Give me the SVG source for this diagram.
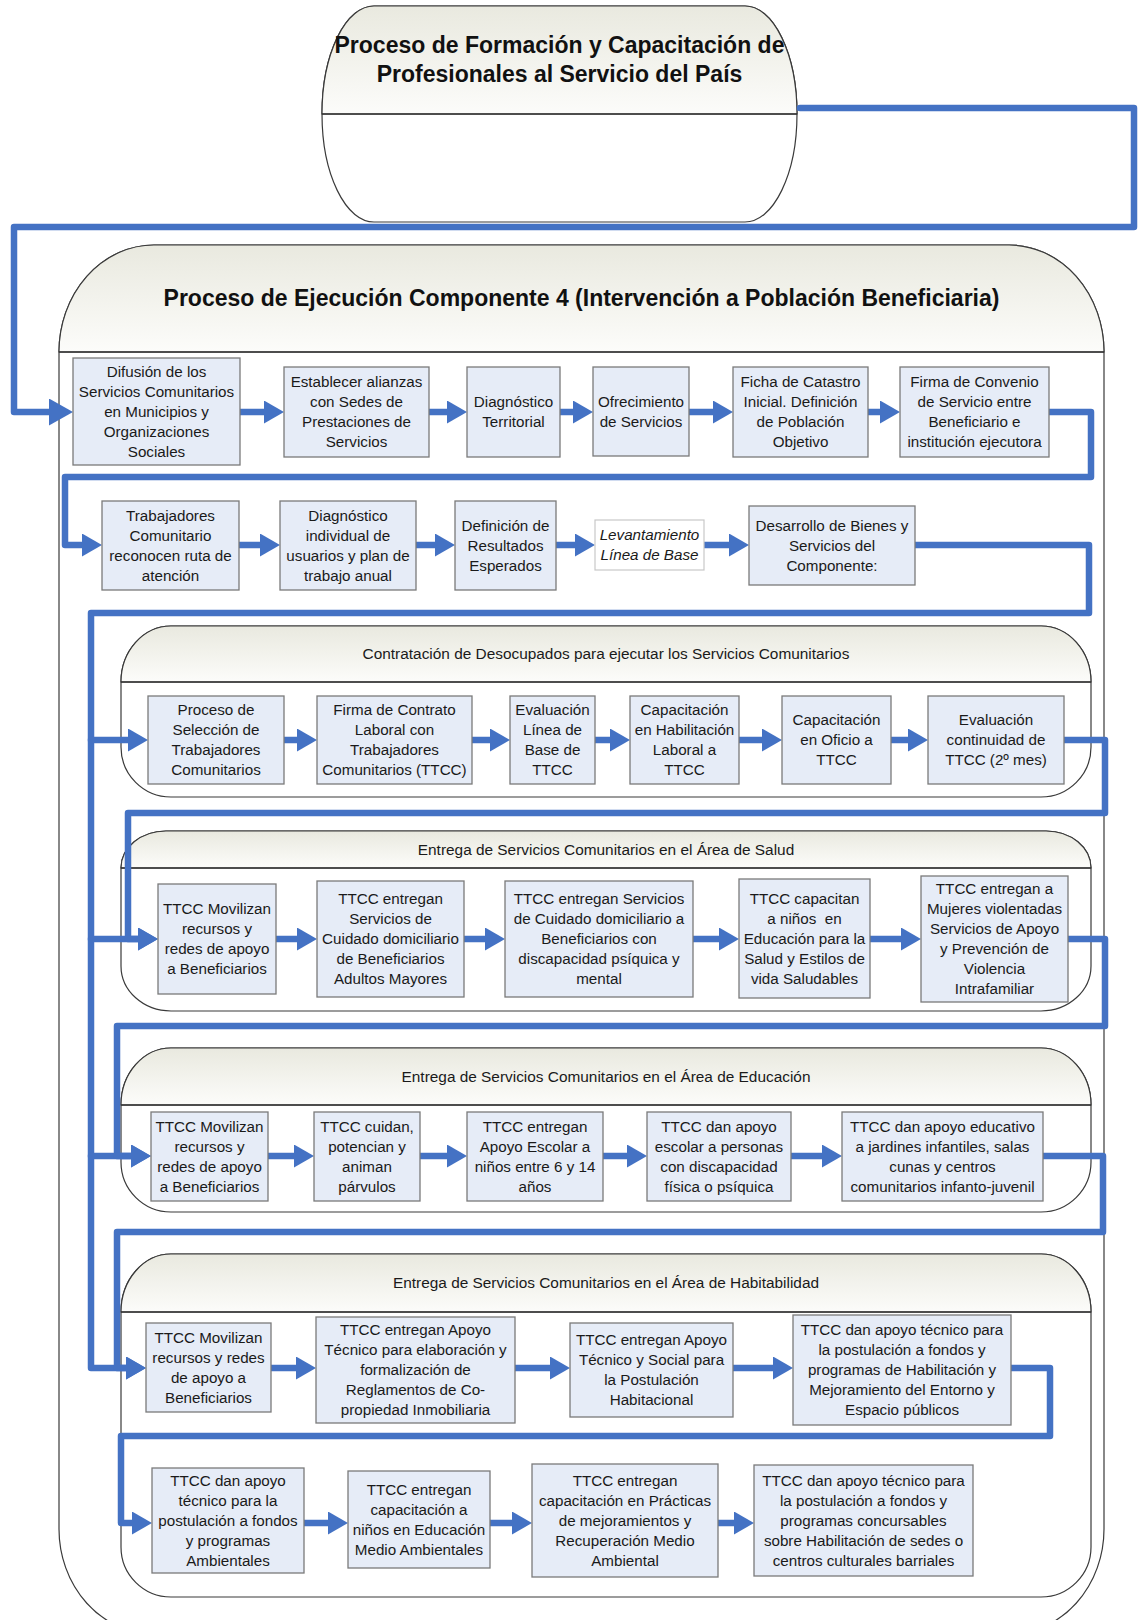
<svg xmlns="http://www.w3.org/2000/svg" width="1138" height="1620" viewBox="0 0 1138 1620">
<defs>
<linearGradient id="hdr" x1="0" y1="0" x2="0" y2="1"><stop offset="0" stop-color="#e9e9df"/><stop offset="1" stop-color="#fcfcfa"/></linearGradient>
<marker id="ah" markerUnits="userSpaceOnUse" markerWidth="20" markerHeight="23" viewBox="0 0 20 23" refX="0" refY="11.5" orient="auto"><path d="M0,0 L20,11.5 L0,23 Z" fill="#4472c4"/></marker>
<marker id="ahL" markerUnits="userSpaceOnUse" markerWidth="24" markerHeight="27" viewBox="0 0 24 27" refX="0" refY="13.5" orient="auto"><path d="M0,0 L24,13.5 L0,27 Z" fill="#4472c4"/></marker>
<style>
.cont{fill:#ffffff;stroke:#3a3a3a;stroke-width:1.2}
.hd{fill:url(#hdr);stroke:#3a3a3a;stroke-width:1.2}
.dv{stroke:#333;stroke-width:1.5}
.box{fill:#e6ecf7;stroke:#7a7a7a;stroke-width:1.3}
.box2{fill:#ffffff;stroke:#c8c8c8;stroke-width:1.2}
.bt{font-family:"Liberation Sans",Arial,sans-serif;font-size:15.2px;fill:#1a1a1a;text-anchor:middle}
.it{font-style:italic}
.tt{font-family:"Liberation Sans",Arial,sans-serif;font-size:23px;font-weight:bold;fill:#111;text-anchor:middle}
.st{font-family:"Liberation Sans",Arial,sans-serif;font-size:15.4px;fill:#1a1a1a;text-anchor:middle}
.c{fill:none;stroke:#4472c4;stroke-width:6.5;stroke-linejoin:round;stroke-linecap:round;marker-end:url(#ah)}
.cl{marker-end:url(#ahL)}
</style>
</defs>
<rect width="1138" height="1620" fill="#ffffff"/>

<g id="formacion">
<path class="cont" d="M374,6 H745 A52,108 0 0 1 745,222 H374 A52,108 0 0 1 374,6 Z"/>
<path class="hd" d="M322,114 A52,108 0 0 1 374,6 H745 A52,108 0 0 1 797,114 Z"/>
<line class="dv" x1="322" y1="114" x2="797" y2="114"/>
<text class="tt"><tspan x="559.5" y="53">Proceso de Formación y Capacitación de</tspan><tspan x="559.5" y="82">Profesionales al Servicio del País</tspan></text>
</g>

<g id="ejecucion">
<path class="cont" d="M154,245 H1009 A95,107 0 0 1 1104,352 V1529 A95,105 0 0 1 1009,1634 H154 A95,105 0 0 1 59,1529 V352 A95,107 0 0 1 154,245 Z"/>
<path class="hd" d="M59,352 A95,107 0 0 1 154,245 H1009 A95,107 0 0 1 1104,352 Z"/>
<line class="dv" x1="59" y1="352" x2="1104" y2="352"/>
<text class="tt" x="581.5" y="306">Proceso de Ejecución Componente 4 (Intervención a Población Beneficiaria)</text>
</g>

<g id="sec-contratacion">
<path class="cont" d="M171,626 H1041 A50,56 0 0 1 1091,682 V747 A50,50 0 0 1 1041,797 H171 A50,50 0 0 1 121,747 V682 A50,56 0 0 1 171,626 Z"/>
<path class="hd" d="M121,682 A50,56 0 0 1 171,626 H1041 A50,56 0 0 1 1091,682 Z"/>
<line class="dv" x1="121" y1="682" x2="1091" y2="682"/>
<text class="st" x="606" y="659">Contratación de Desocupados para ejecutar los Servicios Comunitarios</text>
</g>
<g id="sec-salud">
<path class="cont" d="M166,831 H1046 A45,37 0 0 1 1091,868 V966 A50,45 0 0 1 1041,1011 H171 A50,45 0 0 1 121,966 V868 A45,37 0 0 1 166,831 Z"/>
<path class="hd" d="M121,868 A45,37 0 0 1 166,831 H1046 A45,37 0 0 1 1091,868 Z"/>
<line class="dv" x1="121" y1="868" x2="1091" y2="868"/>
<text class="st" x="606" y="855">Entrega de Servicios Comunitarios en el Área de Salud</text>
</g>
<g id="sec-educacion">
<path class="cont" d="M171,1048 H1041 A50,57 0 0 1 1091,1105 V1162 A50,50 0 0 1 1041,1212 H171 A50,50 0 0 1 121,1162 V1105 A50,57 0 0 1 171,1048 Z"/>
<path class="hd" d="M121,1105 A50,57 0 0 1 171,1048 H1041 A50,57 0 0 1 1091,1105 Z"/>
<line class="dv" x1="121" y1="1105" x2="1091" y2="1105"/>
<text class="st" x="606" y="1082">Entrega de Servicios Comunitarios en el Área de Educación</text>
</g>
<g id="sec-habitabilidad">
<path class="cont" d="M171,1254 H1041 A50,58 0 0 1 1091,1312 V1547 A50,50 0 0 1 1041,1597 H171 A50,50 0 0 1 121,1547 V1312 A50,58 0 0 1 171,1254 Z"/>
<path class="hd" d="M121,1312 A50,58 0 0 1 171,1254 H1041 A50,58 0 0 1 1091,1312 Z"/>
<line class="dv" x1="121" y1="1312" x2="1091" y2="1312"/>
<text class="st" x="606" y="1288">Entrega de Servicios Comunitarios en el Área de Habitabilidad</text>
</g>

<g id="connectors">
<path class="c cl" d="M800,108 H1134 V227 H14 V412 H49"/>
<path class="c" d="M240,412 H264"/>
<path class="c" d="M429,412 H447"/>
<path class="c" d="M560,412 H573"/>
<path class="c" d="M689,412 H713"/>
<path class="c" d="M868,412 H880"/>
<path class="c" d="M1049,412 H1091 V477 H65 V545 H82"/>
<path class="c" d="M239,545 H260"/>
<path class="c" d="M416,545 H435"/>
<path class="c" d="M556,545 H575"/>
<path class="c" d="M704,545 H729"/>
<path class="c" d="M915,545 H1089 V613 H91 V1368 H126"/>
<path class="c" d="M91,740 H128"/>
<path class="c" d="M91,939 H138"/>
<path class="c" d="M91,1156 H131"/>
<path class="c" d="M284,740 H297"/>
<path class="c" d="M472,740 H490"/>
<path class="c" d="M595,740 H610"/>
<path class="c" d="M739,740 H762"/>
<path class="c" d="M891,740 H908"/>
<path class="c" d="M1064,740 H1105 V813 H128 V939 H138"/>
<path class="c" d="M276,939 H297"/>
<path class="c" d="M464,939 H485"/>
<path class="c" d="M693,939 H719"/>
<path class="c" d="M870,939 H901"/>
<path class="c" d="M1068,939 H1105 V1026 H117 V1156 H131"/>
<path class="c" d="M268,1156 H294"/>
<path class="c" d="M420,1156 H447"/>
<path class="c" d="M603,1156 H627"/>
<path class="c" d="M791,1156 H822"/>
<path class="c" d="M1043,1156 H1103 V1232 H117 V1368 H126"/>
<path class="c" d="M271,1368 H296"/>
<path class="c" d="M515,1368 H550"/>
<path class="c" d="M733,1368 H773"/>
<path class="c" d="M1011,1368 H1050 V1436 H121 V1523 H132"/>
<path class="c" d="M304,1523 H328"/>
<path class="c" d="M490,1523 H512"/>
<path class="c" d="M718,1523 H734"/>
</g>

<g id="n1"><rect class="box" x="73" y="358" width="167" height="107"/><text class="bt"><tspan x="156.5" y="376.9">Difusión de los</tspan><tspan x="156.5" y="396.9">Servicios Comunitarios</tspan><tspan x="156.5" y="416.9">en Municipios y</tspan><tspan x="156.5" y="436.9">Organizaciones</tspan><tspan x="156.5" y="456.9">Sociales</tspan></text></g>
<g id="n2"><rect class="box" x="284" y="367" width="145" height="90"/><text class="bt"><tspan x="356.5" y="387.4">Establecer alianzas</tspan><tspan x="356.5" y="407.4">con Sedes de</tspan><tspan x="356.5" y="427.4">Prestaciones de</tspan><tspan x="356.5" y="447.4">Servicios</tspan></text></g>
<g id="n3"><rect class="box" x="467" y="367" width="93" height="90"/><text class="bt"><tspan x="513.5" y="407.4">Diagnóstico</tspan><tspan x="513.5" y="427.4">Territorial</tspan></text></g>
<g id="n4"><rect class="box" x="593" y="367" width="96" height="89"/><text class="bt"><tspan x="641" y="406.9">Ofrecimiento</tspan><tspan x="641" y="426.9">de Servicios</tspan></text></g>
<g id="n5"><rect class="box" x="733" y="367" width="135" height="90"/><text class="bt"><tspan x="800.5" y="387.4">Ficha de Catastro</tspan><tspan x="800.5" y="407.4">Inicial. Definición</tspan><tspan x="800.5" y="427.4">de Población</tspan><tspan x="800.5" y="447.4">Objetivo</tspan></text></g>
<g id="n6"><rect class="box" x="900" y="367" width="149" height="90"/><text class="bt"><tspan x="974.5" y="387.4">Firma de Convenio</tspan><tspan x="974.5" y="407.4">de Servicio entre</tspan><tspan x="974.5" y="427.4">Beneficiario e</tspan><tspan x="974.5" y="447.4">institución ejecutora</tspan></text></g>
<g id="n7"><rect class="box" x="102" y="501" width="137" height="89"/><text class="bt"><tspan x="170.5" y="520.9">Trabajadores</tspan><tspan x="170.5" y="540.9">Comunitario</tspan><tspan x="170.5" y="560.9">reconocen ruta de</tspan><tspan x="170.5" y="580.9">atención</tspan></text></g>
<g id="n8"><rect class="box" x="280" y="501" width="136" height="89"/><text class="bt"><tspan x="348" y="520.9">Diagnóstico</tspan><tspan x="348" y="540.9">individual de</tspan><tspan x="348" y="560.9">usuarios y plan de</tspan><tspan x="348" y="580.9">trabajo anual</tspan></text></g>
<g id="n9"><rect class="box" x="455" y="501" width="101" height="89"/><text class="bt"><tspan x="505.5" y="530.9">Definición de</tspan><tspan x="505.5" y="550.9">Resultados</tspan><tspan x="505.5" y="570.9">Esperados</tspan></text></g>
<g id="n10"><rect class="box2" x="595" y="520" width="109" height="50"/><text class="bt it"><tspan x="649.5" y="540.4">Levantamiento</tspan><tspan x="649.5" y="560.4">Línea de Base</tspan></text></g>
<g id="n11"><rect class="box" x="749" y="506" width="166" height="79"/><text class="bt"><tspan x="832" y="530.9">Desarrollo de Bienes y</tspan><tspan x="832" y="550.9">Servicios del</tspan><tspan x="832" y="570.9">Componente:</tspan></text></g>

<g id="c1"><rect class="box" x="148" y="696" width="136" height="88"/><text class="bt"><tspan x="216" y="715.4">Proceso de</tspan><tspan x="216" y="735.4">Selección de</tspan><tspan x="216" y="755.4">Trabajadores</tspan><tspan x="216" y="775.4">Comunitarios</tspan></text></g>
<g id="c2"><rect class="box" x="317" y="696" width="155" height="88"/><text class="bt"><tspan x="394.5" y="715.4">Firma de Contrato</tspan><tspan x="394.5" y="735.4">Laboral con</tspan><tspan x="394.5" y="755.4">Trabajadores</tspan><tspan x="394.5" y="775.4">Comunitarios (TTCC)</tspan></text></g>
<g id="c3"><rect class="box" x="510" y="696" width="85" height="88"/><text class="bt"><tspan x="552.5" y="715.4">Evaluación</tspan><tspan x="552.5" y="735.4">Línea de</tspan><tspan x="552.5" y="755.4">Base de</tspan><tspan x="552.5" y="775.4">TTCC</tspan></text></g>
<g id="c4"><rect class="box" x="630" y="696" width="109" height="88"/><text class="bt"><tspan x="684.5" y="715.4">Capacitación</tspan><tspan x="684.5" y="735.4">en Habilitación</tspan><tspan x="684.5" y="755.4">Laboral a</tspan><tspan x="684.5" y="775.4">TTCC</tspan></text></g>
<g id="c5"><rect class="box" x="782" y="696" width="109" height="88"/><text class="bt"><tspan x="836.5" y="725.4">Capacitación</tspan><tspan x="836.5" y="745.4">en Oficio a</tspan><tspan x="836.5" y="765.4">TTCC</tspan></text></g>
<g id="c6"><rect class="box" x="928" y="696" width="136" height="88"/><text class="bt"><tspan x="996" y="725.4">Evaluación</tspan><tspan x="996" y="745.4">continuidad de</tspan><tspan x="996" y="765.4">TTCC (2º mes)</tspan></text></g>

<g id="s1"><rect class="box" x="158" y="884" width="118" height="110"/><text class="bt"><tspan x="217" y="914.4">TTCC Movilizan</tspan><tspan x="217" y="934.4">recursos y</tspan><tspan x="217" y="954.4">redes de apoyo</tspan><tspan x="217" y="974.4">a Beneficiarios</tspan></text></g>
<g id="s2"><rect class="box" x="317" y="881" width="147" height="116"/><text class="bt"><tspan x="390.5" y="904.4">TTCC entregan</tspan><tspan x="390.5" y="924.4">Servicios de</tspan><tspan x="390.5" y="944.4">Cuidado domiciliario</tspan><tspan x="390.5" y="964.4">de Beneficiarios</tspan><tspan x="390.5" y="984.4">Adultos Mayores</tspan></text></g>
<g id="s3"><rect class="box" x="505" y="881" width="188" height="116"/><text class="bt"><tspan x="599" y="904.4">TTCC entregan Servicios</tspan><tspan x="599" y="924.4">de Cuidado domiciliario a</tspan><tspan x="599" y="944.4">Beneficiarios con</tspan><tspan x="599" y="964.4">discapacidad psíquica y</tspan><tspan x="599" y="984.4">mental</tspan></text></g>
<g id="s4"><rect class="box" x="739" y="879" width="131" height="119"/><text class="bt"><tspan x="804.5" y="904.4">TTCC capacitan</tspan><tspan x="804.5" y="924.4" xml:space="preserve">a niños  en</tspan><tspan x="804.5" y="944.4">Educación para la</tspan><tspan x="804.5" y="964.4">Salud y Estilos de</tspan><tspan x="804.5" y="984.4">vida Saludables</tspan></text></g>
<g id="s5"><rect class="box" x="921" y="876" width="147" height="126"/><text class="bt"><tspan x="994.5" y="894.4">TTCC entregan a</tspan><tspan x="994.5" y="914.4">Mujeres violentadas</tspan><tspan x="994.5" y="934.4">Servicios de Apoyo</tspan><tspan x="994.5" y="954.4">y Prevención de</tspan><tspan x="994.5" y="974.4">Violencia</tspan><tspan x="994.5" y="994.4">Intrafamiliar</tspan></text></g>

<g id="e1"><rect class="box" x="151" y="1112" width="117" height="89"/><text class="bt"><tspan x="209.5" y="1131.9">TTCC Movilizan</tspan><tspan x="209.5" y="1151.9">recursos y</tspan><tspan x="209.5" y="1171.9">redes de apoyo</tspan><tspan x="209.5" y="1191.9">a Beneficiarios</tspan></text></g>
<g id="e2"><rect class="box" x="314" y="1112" width="106" height="89"/><text class="bt"><tspan x="367" y="1131.9">TTCC cuidan,</tspan><tspan x="367" y="1151.9">potencian y</tspan><tspan x="367" y="1171.9">animan</tspan><tspan x="367" y="1191.9">párvulos</tspan></text></g>
<g id="e3"><rect class="box" x="467" y="1112" width="136" height="89"/><text class="bt"><tspan x="535" y="1131.9">TTCC entregan</tspan><tspan x="535" y="1151.9">Apoyo Escolar a</tspan><tspan x="535" y="1171.9">niños entre 6 y 14</tspan><tspan x="535" y="1191.9">años</tspan></text></g>
<g id="e4"><rect class="box" x="647" y="1112" width="144" height="89"/><text class="bt"><tspan x="719" y="1131.9">TTCC dan apoyo</tspan><tspan x="719" y="1151.9">escolar a personas</tspan><tspan x="719" y="1171.9">con discapacidad</tspan><tspan x="719" y="1191.9">física o psíquica</tspan></text></g>
<g id="e5"><rect class="box" x="842" y="1112" width="201" height="89"/><text class="bt"><tspan x="942.5" y="1131.9">TTCC dan apoyo educativo</tspan><tspan x="942.5" y="1151.9">a jardines infantiles, salas</tspan><tspan x="942.5" y="1171.9">cunas y centros</tspan><tspan x="942.5" y="1191.9">comunitarios infanto-juvenil</tspan></text></g>

<g id="h1"><rect class="box" x="146" y="1323" width="125" height="89"/><text class="bt"><tspan x="208.5" y="1342.9">TTCC Movilizan</tspan><tspan x="208.5" y="1362.9">recursos y redes</tspan><tspan x="208.5" y="1382.9">de apoyo a</tspan><tspan x="208.5" y="1402.9">Beneficiarios</tspan></text></g>
<g id="h2"><rect class="box" x="316" y="1317" width="199" height="106"/><text class="bt"><tspan x="415.5" y="1335.4">TTCC entregan Apoyo</tspan><tspan x="415.5" y="1355.4">Técnico para elaboración y</tspan><tspan x="415.5" y="1375.4">formalización de</tspan><tspan x="415.5" y="1395.4">Reglamentos de Co-</tspan><tspan x="415.5" y="1415.4">propiedad Inmobiliaria</tspan></text></g>
<g id="h3"><rect class="box" x="570" y="1323" width="163" height="94"/><text class="bt"><tspan x="651.5" y="1345.4">TTCC entregan Apoyo</tspan><tspan x="651.5" y="1365.4">Técnico y Social para</tspan><tspan x="651.5" y="1385.4">la Postulación</tspan><tspan x="651.5" y="1405.4">Habitacional</tspan></text></g>
<g id="h4"><rect class="box" x="793" y="1315" width="218" height="110"/><text class="bt"><tspan x="902" y="1335.4">TTCC dan apoyo técnico para</tspan><tspan x="902" y="1355.4">la postulación a fondos y</tspan><tspan x="902" y="1375.4">programas de Habilitación y</tspan><tspan x="902" y="1395.4">Mejoramiento del Entorno y</tspan><tspan x="902" y="1415.4">Espacio públicos</tspan></text></g>
<g id="h5"><rect class="box" x="152" y="1468" width="152" height="105"/><text class="bt"><tspan x="228" y="1485.9">TTCC dan apoyo</tspan><tspan x="228" y="1505.9">técnico para la</tspan><tspan x="228" y="1525.9">postulación a fondos</tspan><tspan x="228" y="1545.9">y programas</tspan><tspan x="228" y="1565.9">Ambientales</tspan></text></g>
<g id="h6"><rect class="box" x="348" y="1471" width="142" height="97"/><text class="bt"><tspan x="419" y="1494.9">TTCC entregan</tspan><tspan x="419" y="1514.9">capacitación a</tspan><tspan x="419" y="1534.9">niños en Educación</tspan><tspan x="419" y="1554.9">Medio Ambientales</tspan></text></g>
<g id="h7"><rect class="box" x="532" y="1464" width="186" height="113"/><text class="bt"><tspan x="625" y="1485.9">TTCC entregan</tspan><tspan x="625" y="1505.9">capacitación en Prácticas</tspan><tspan x="625" y="1525.9">de mejoramientos y</tspan><tspan x="625" y="1545.9">Recuperación Medio</tspan><tspan x="625" y="1565.9">Ambiental</tspan></text></g>
<g id="h8"><rect class="box" x="754" y="1465" width="219" height="111"/><text class="bt"><tspan x="863.5" y="1485.9">TTCC dan apoyo técnico para</tspan><tspan x="863.5" y="1505.9">la postulación a fondos y</tspan><tspan x="863.5" y="1525.9">programas concursables</tspan><tspan x="863.5" y="1545.9">sobre Habilitación de sedes o</tspan><tspan x="863.5" y="1565.9">centros culturales barriales</tspan></text></g>
</svg>
